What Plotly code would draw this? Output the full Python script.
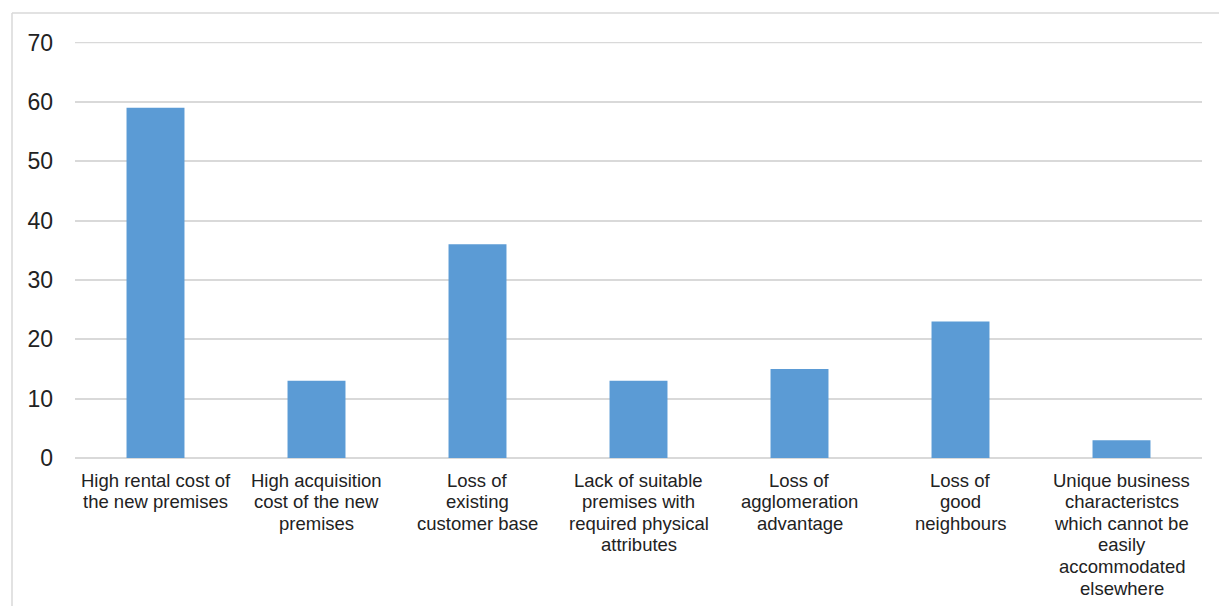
import plotly.graph_objects as go

categories = [
    "High rental cost of<br>the new premises",
    "High acquisition<br>cost of the new<br>premises",
    "Loss of<br>existing<br>customer base",
    "Lack of suitable<br>premises with<br>required physical<br>attributes",
    "Loss of<br>agglomeration<br>advantage",
    "Loss of<br>good<br>neighbours",
    "Unique business<br>characteristcs<br>which cannot be<br>easily<br>accommodated<br>elsewhere",
]
values = [59, 13, 36, 13, 15, 23, 3]
y_ticks = [0, 10, 20, 30, 40, 50, 60, 70]

W, H = 1219, 606
ML, MR, MT, MB = 75, 17, 42, 148
TEXT = "#222222"
GRID = "#d9d9d9"

fig = go.Figure(
    go.Bar(
        x=categories,
        y=values,
        marker=dict(color="#5B9BD5", line=dict(width=0)),
        width=0.36,
        hoverinfo="y",
    )
)

# category labels, one annotation per text line for tighter line spacing
for cat in categories:
    for i, line in enumerate(cat.split("<br>")):
        fig.add_annotation(
            x=cat, y=0, xref="x", yref="y",
            text=line, showarrow=False,
            xanchor="center", yanchor="middle",
            yshift=-(22 + i * 21.6),
            font=dict(size=18.5, color=TEXT),
        )

# gridline at the top of the value range (plotly skips the edge one)
fig.add_shape(type="line", xref="paper", yref="y", x0=0, x1=1,
              y0=max(y_ticks), y1=max(y_ticks), layer="below",
              line=dict(color=GRID, width=1.5))

pw, ph = W - ML - MR, H - MT - MB
# outer chart frame (left and top edges visible)
bx = (12 - ML) / pw
by = 1 + (MT - 13) / ph
fig.add_shape(type="line", xref="paper", yref="paper", x0=bx, x1=bx, y0=by, y1=-2,
              line=dict(color=GRID, width=1.5))
fig.add_shape(type="line", xref="paper", yref="paper", x0=bx, x1=2, y0=by, y1=by,
              line=dict(color=GRID, width=1.5))

fig.update_layout(
    width=W,
    height=H,
    margin=dict(l=ML, r=MR, t=MT, b=MB, autoexpand=False),
    paper_bgcolor="white",
    plot_bgcolor="white",
    showlegend=False,
    font=dict(family="Liberation Sans, Arial, sans-serif", color=TEXT),
    xaxis=dict(
        showgrid=False,
        showline=False,
        ticks="",
        showticklabels=False,
        automargin=False,
    ),
    yaxis=dict(
        range=[0, 70.08],
        tickvals=y_ticks,
        showgrid=True,
        gridcolor=GRID,
        gridwidth=1.5,
        zeroline=True,
        zerolinecolor=GRID,
        zerolinewidth=1.5,
        showline=False,
        ticks="",
        tickfont=dict(size=23),
        ticklabelstandoff=21,
        automargin=False,
    ),
)

fig.write_html("out.html")
